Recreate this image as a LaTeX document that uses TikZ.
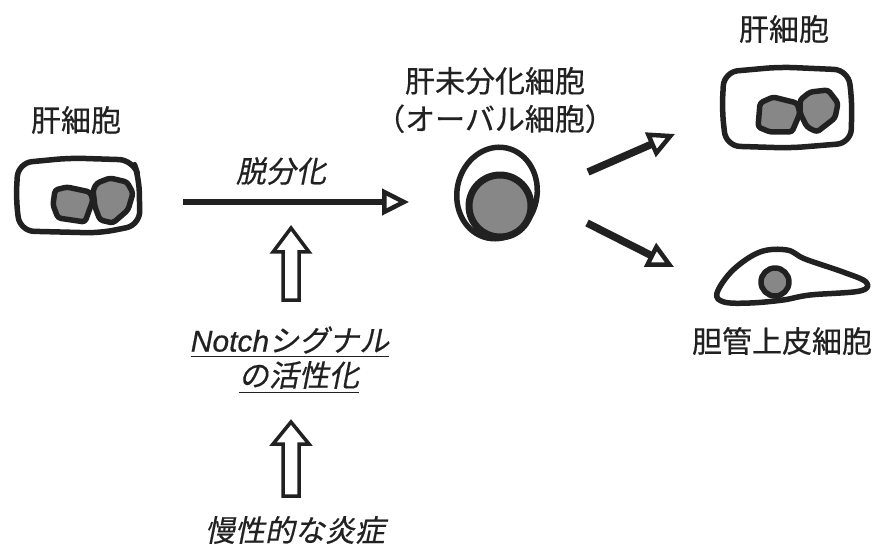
\documentclass[tikz,border=0pt]{standalone}
\usepackage{fontspec}
\usetikzlibrary{arrows.meta}
\newfontfamily\jpfont[FakeBold=0.5]{Noto Sans CJK JP}
\newfontfamily\jpslant[FakeSlant=0.2, FakeBold=0.5]{Noto Sans CJK JP}
\newfontfamily\latfont[FakeBold=0.5]{Liberation Sans}
\definecolor{ink}{gray}{0.13}
\definecolor{nucgray}{gray}{0.53}
\tikzset{
  lbl/.style={inner sep=0pt, text=ink, align=center,
    font=\jpfont\fontsize{30}{38}\selectfont},
  itlbl/.style={lbl, font=\jpslant\fontsize{30}{38}\selectfont},
  cellwall/.style={draw=ink, line width=5.5pt, line join=round, line cap=round},
  nucleus/.style={draw=ink, fill=nucgray, line width=5.5pt, line join=round},
  fatarrow/.style={draw=ink, line width=#1,
    -{Triangle[open, line width=4.5pt, length=27pt, width=26pt]}},
  fatarrow/.default=5pt,
  hollow/.style={draw=ink, fill=white, line width=3.5pt, line join=miter}
}
\begin{document}
\begin{tikzpicture}[x=1pt, y=-1pt]
\useasboundingbox (0,0) rectangle (880,545);

% ---- labels ----
\node[lbl] (hepA) at (76,120) {肝細胞};
\node[lbl] (hepB) at (784,29) {肝細胞};
\node[lbl] (oval) at (495,100) {肝未分化細胞\\（オーバル細胞）};
\node[lbl] (bile) at (782,341) {胆管上皮細胞};
\node[itlbl] (dedif) at (281,171) {脱分化};
\node[itlbl] (notchA) at (290,340) {{\latfont\itshape Notch}シグナル};
\node[itlbl] (notchB) at (299,375) {の活性化};
\node[itlbl] (inflam) at (295,530) {慢性的な炎症};
\draw[ink, line width=1.8pt] ([yshift=-5pt]notchA.base west) -- ([yshift=-5pt]notchA.base east);
\draw[ink, line width=1.8pt] ([yshift=-6pt]notchB.base west) -- ([yshift=-6pt]notchB.base east);

% ---- hepatocyte (left) ----
\draw[cellwall, rounded corners=14pt]
  (18,163) -- (70,158) -- (133,160) -- (139,178) -- (140,225) -- (100,233) -- (20,231) -- (16,200) -- cycle;
\draw[nucleus, rounded corners=3pt]
  (55,190) -- (67,187) -- (90,192) -- (93,200) -- (85,222) -- (58,218) -- (53,205) -- cycle;
\draw[nucleus, rounded corners=3pt]
  (97,183) -- (110,178) -- (127,182) -- (133,193) -- (128,210) -- (113,223) -- (100,220) -- (95,207) -- (93,190) -- cycle;

% ---- oval cell (middle) ----
\draw[cellwall] (497,193) ellipse [x radius=40, y radius=46, rotate=-12];
\draw[nucleus, line width=7pt] (500,206) circle [radius=31];

% ---- hepatocyte (upper right) ----
\draw[cellwall, rounded corners=14pt]
  (724,72) -- (780,67) -- (848,70) -- (852,100) -- (851,143) -- (790,148) -- (726,146) -- (722,110) -- cycle;
\draw[nucleus, rounded corners=3pt]
  (760,103) -- (773,97) -- (797,103) -- (800,113) -- (792,132) -- (770,132) -- (758,127) -- cycle;
\draw[nucleus, rounded corners=3pt]
  (800,100) -- (810,92) -- (828,90) -- (838,103) -- (835,118) -- (817,132) -- (807,127) -- (800,113) -- cycle;

% ---- biliary epithelial cell (lower right) ----
\draw[cellwall] plot[smooth cycle, tension=0.6] coordinates {
  (717,293) (733,270) (760,252) (787,250) (805,259) (843,272)
  (866,282) (860,291) (810,295) (783,300) (750,303) (724,302)};
\draw[nucleus] (775,282) circle [radius=14];

% ---- arrows ----
\coordinate (d0) at (183,202);
\coordinate (d1) at (409,202);
\draw[fatarrow=5.5pt] (d0) -- (d1);
\coordinate (u0) at (588,172);
\coordinate (u1) at (675,134);
\draw[fatarrow=7.5pt] (u0) -- (u1);
\coordinate (l0) at (587,223);
\coordinate (l1) at (674,267);
\draw[fatarrow=7.5pt] (l0) -- (l1);

% hollow upward arrows
\coordinate (b1) at (291,300);
\coordinate (b2) at (291,496);
\draw[hollow] (b1) ++(-8,0) -- ++(0,-48) -- ++(-10,0) -- ++(18,-24) -- ++(18,24) -- ++(-10,0) -- ++(0,48) -- cycle;
\draw[hollow] (b2) ++(-8,0) -- ++(0,-52) -- ++(-10,0) -- ++(18,-22) -- ++(18,22) -- ++(-10,0) -- ++(0,52) -- cycle;
\end{tikzpicture}
\end{document}
